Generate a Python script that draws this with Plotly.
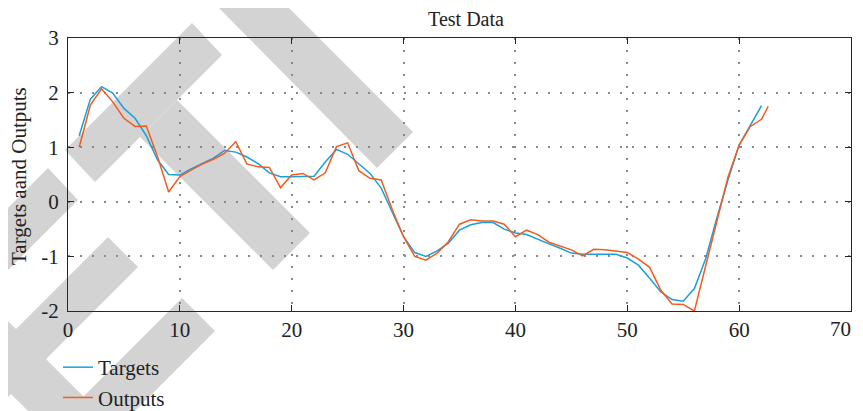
import plotly.graph_objects as go

# ----------------------------
# Datos
# ----------------------------
x_targets = list(range(1, 63))
targets = [1.21, 1.88, 2.11, 1.99, 1.71, 1.53, 1.21, 0.77, 0.50, 0.49,
           0.60, 0.70, 0.80, 0.94, 0.91, 0.82, 0.70, 0.53, 0.46, 0.46,
           0.47, 0.47, 0.73, 0.96, 0.87, 0.70, 0.52, 0.25, -0.21, -0.64,
           -0.93, -1.00, -0.90, -0.76, -0.52, -0.42, -0.38, -0.38, -0.50, -0.57,
           -0.60, -0.69, -0.77, -0.85, -0.94, -0.96, -0.96, -0.96, -0.96, -1.03,
           -1.16, -1.40, -1.65, -1.79, -1.82, -1.59, -1.05, -0.30, 0.40, 1.04,
           1.41, 1.76]

x_outputs = list(range(1, 63)) + [62.6]
outputs = [1.00, 1.77, 2.07, 1.83, 1.53, 1.38, 1.39, 0.83, 0.18, 0.46,
           0.58, 0.69, 0.78, 0.89, 1.10, 0.69, 0.64, 0.63, 0.26, 0.49,
           0.52, 0.40, 0.53, 1.01, 1.08, 0.57, 0.43, 0.40, -0.15, -0.64,
           -1.00, -1.07, -0.94, -0.73, -0.41, -0.33, -0.35, -0.35, -0.41, -0.64,
           -0.52, -0.60, -0.74, -0.81, -0.88, -0.99, -0.87, -0.88, -0.90, -0.93,
           -1.05, -1.20, -1.62, -1.87, -1.88, -2.00, -1.18, -0.36, 0.45, 1.04,
           1.38, 1.51, 1.75]

x_ticks = [0, 10, 20, 30, 40, 50, 60, 70]
# el "70" se pone aparte (anotacion) para que no se corte en el borde
x_tick_text = ['0', '10', '20', '30', '40', '50', '60', '']
y_ticks = [-2, -1, 0, 1, 2, 3]
y_tick_text = ['-2', '-1', '0', '1', '2', '3']

# ----------------------------
# Geometria (pixeles de pantalla; la pagina tiene un margen de 8px)
# ----------------------------
OFF = 8
W, H = 863 - OFF, 411 - OFF
PL, PT, PR, PB = 68, 38, 851, 311      # area del grafico en pantalla
pw, ph = PR - PL, PB - PT

bandas = [
    [(65, 150), (192, 23), (222, 55), (95, 182)],
    [(177, 100), (310, 233), (273, 270), (140, 137)],
    [(211, 0), (281, 0), (413, 132), (377, 168)],
    [(48, 168), (78, 200), (-10, 288), (-10, 226)],
    [(108, 237), (138, 267), (-10, 415), (-10, 355)],
    [(182, 298), (215, 331), (126, 420), (60, 420)],
    [(-10, 303), (107, 420), (37, 420), (-10, 373)],
]


def a_path(pts):
    partes = []
    for i, (px, py) in enumerate(pts):
        xx = (px - PL) / pw
        yy = (PB - py) / ph
        partes.append(('M' if i == 0 else 'L') + f'{xx:.4f},{yy:.4f}')
    return ' '.join(partes) + ' Z'


def cx(px):
    return (px - OFF) / W


def cy(py):
    return 1 - (py - OFF) / H


shapes = [dict(type='path', xref='paper', yref='paper', path=a_path(b),
               fillcolor='#d3d3d3', line=dict(width=0), layer='below')
          for b in bandas]

# ----------------------------
# Grafico
# ----------------------------
fig = go.Figure()
fig.add_trace(go.Scatter(x=x_targets, y=targets, mode='lines', name='Targets',
                         line=dict(color='#1a9fd8', width=1.5)))
fig.add_trace(go.Scatter(x=x_outputs, y=outputs, mode='lines', name='Outputs',
                         line=dict(color='#f25c22', width=1.5)))

fuente = 'Liberation Serif, Times New Roman, serif'

fig.update_layout(
    width=W, height=H,
    margin=dict(l=PL - OFF, r=863 - PR, t=PT - OFF, b=411 - PB, autoexpand=False),
    paper_bgcolor='white',
    plot_bgcolor='rgba(0,0,0,0)',
    font=dict(family=fuente, size=21, color='#222222'),
    title=dict(text='Test Data', x=cx(466), xref='container', xanchor='center',
               y=cy(19), yref='container', yanchor='middle',
               font=dict(family=fuente, size=20, color='#222222')),
    shapes=shapes,
    annotations=[
        dict(text='Targets aand Outputs', textangle=-90, showarrow=False,
             xref='paper', yref='paper', x=(19 - PL) / pw, y=(PB - 176) / ph,
             xanchor='center', yanchor='middle',
             font=dict(family=fuente, size=21, color='#222222')),
        dict(text=str(x_ticks[-1]), showarrow=False, xref='x', yref='paper',
             x=x_ticks[-1], y=(PB - 329) / ph, xanchor='right', yanchor='middle',
             xshift=2, font=dict(family=fuente, size=21, color='#222222')),
    ],
    showlegend=True,
    legend=dict(x=cx(58), y=cy(347), xref='container', yref='container',
                xanchor='left', yanchor='top', bgcolor='rgba(0,0,0,0)',
                font=dict(family=fuente, size=21)),
)

fig.update_xaxes(range=[0, 70], tickvals=x_ticks, ticktext=x_tick_text, showline=True,
                 linecolor='#262626', linewidth=1.3, mirror='allticks', ticks='inside',
                 ticklen=6, tickcolor='#262626', showgrid=True, gridcolor='#8a8a8a',
                 gridwidth=1.5, griddash='2px,10px', zeroline=False,
                 tickfont=dict(size=21), automargin=False, ticklabelstandoff=0)
fig.update_yaxes(range=[-2, 3], tickvals=y_ticks, ticktext=y_tick_text, showline=True,
                 linecolor='#262626', linewidth=1.3, mirror='allticks', ticks='inside',
                 ticklen=6, tickcolor='#262626', showgrid=True, gridcolor='#8a8a8a',
                 gridwidth=1.5, griddash='2px,10px', zeroline=False,
                 tickfont=dict(size=21), automargin=False, ticklabelstandoff=4)

fig.write_html("out.html")
